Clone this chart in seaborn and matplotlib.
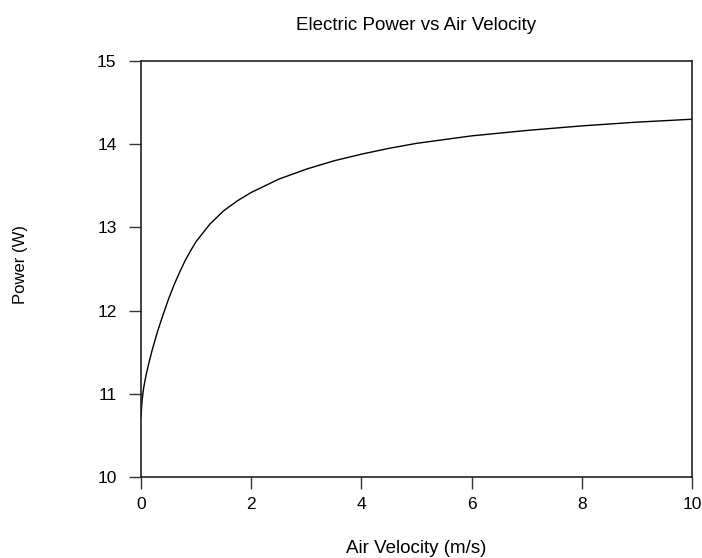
import matplotlib
matplotlib.use("Agg")
import matplotlib.pyplot as plt
import seaborn as sns
import pandas as pd

# Valeurs
air_velocity = [0.0, 0.01, 0.02, 0.035, 0.05, 0.075, 0.1, 0.15, 0.2, 0.3, 0.4,
                0.5, 0.6, 0.7, 0.8, 0.9, 1.0, 1.25, 1.5, 1.75, 2.0, 2.5, 3.0,
                3.5, 4.0, 4.5, 5.0, 6.0, 7.0, 8.0, 9.0, 10.0]
power = [10.72, 10.84, 10.92, 11.01, 11.08, 11.17, 11.25, 11.39, 11.52, 11.75,
         11.95, 12.14, 12.31, 12.46, 12.60, 12.72, 12.83, 13.04, 13.20, 13.32,
         13.42, 13.58, 13.70, 13.80, 13.88, 13.95, 14.01, 14.10, 14.165, 14.22,
         14.265, 14.30]

df = pd.DataFrame({'vitesse': air_velocity, 'puissance': power})

sns.set_style('ticks')
plt.rcParams['font.family'] = ['Liberation Sans', 'DejaVu Sans']
plt.rcParams['text.color'] = 'black'
plt.rcParams['axes.labelcolor'] = 'black'

fig = plt.figure(figsize=(7.02, 5.58), dpi=100)
ax = fig.add_axes([0.2009, 0.1452, 0.7849, 0.7455])

sns.lineplot(data=df, x='vitesse', y='puissance', ax=ax, color='black', linewidth=1.0)

ax.set_xlim(0, 10)
ax.set_ylim(10, 15)
ax.set_xticks([0, 2, 4, 6, 8, 10])
ax.set_yticks([10, 11, 12, 13, 14, 15])

for side in ['left', 'bottom', 'top', 'right']:
    ax.spines[side].set_visible(True)
    ax.spines[side].set_color('#222222')
    ax.spines[side].set_linewidth(1.2)

ax.tick_params(axis='both', direction='out', length=8.6, width=1.0, color='#333333',
               labelsize=12.5, labelcolor='black')
ax.tick_params(axis='x', pad=6)
ax.tick_params(axis='y', pad=9)

ax.set_title('Electric Power vs Air Velocity', fontsize=13.5, pad=22, color='black')
ax.set_xlabel('Air Velocity (m/s)', fontsize=13.5)
ax.set_ylabel('Power (W)', fontsize=12)
ax.xaxis.set_label_coords(0.5, -0.152)
ax.yaxis.set_label_coords(-0.205, 0.51)

plt.savefig('out.png', dpi=100)
plt.close()
